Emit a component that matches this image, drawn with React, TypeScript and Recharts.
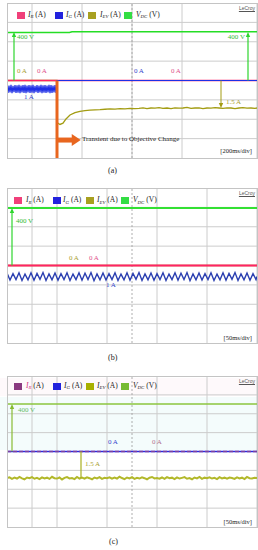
import { CartesianGrid, Line, LineChart, ReferenceLine, XAxis, YAxis } from 'recharts';
import type { ReactNode } from 'react';

type Pt = { t: number; v: number };
const pairs = (list: number[][]): Pt[] => list.map(([t, v]) => ({ t, v }));
const samples = (vals: number[], dt: number, t0 = 0): Pt[] => vals.map((v, i) => ({ t: t0 + i * dt, v }));

// ---- (a) 200 ms/div, t in ms ----
const aVdc = pairs([[0, 396], [500, 396], [520, 403], [2000, 403]]);
const aIr = pairs([[0, 0], [2000, 0]]);
const aIgRipple = [
  -0.55, -1.45, -0.6, -1.4, -0.5, -1.5, -0.62, -1.38, -0.55, -1.45, -0.58, -1.42, -0.5, -1.5, -0.6, -1.4,
  -0.55, -1.45, -0.52, -1.48, -0.6, -1.4, -0.55, -1.45, -0.58, -1.42, -0.5, -1.5, -0.62, -1.38, -0.55, -1.45,
  -0.6, -1.4, -0.5, -1.5, -0.58, -1.42, -0.55, -1.45, -0.6, -1.4, -0.52, -1.48, -0.55, -1.45, -0.6, -1.4,
  -0.55, -1.45,
];
const aIg = [...samples(aIgRipple, 8), ...pairs([[400, -1], [400, 0], [2000, 0]])];
const aIevTransient = pairs([
  [0, 0], [400, 0], [400, -2.3], [424, -2.4], [448, -2.33], [472, -2.1], [504, -1.88], [544, -1.75],
  [584, -1.68], [624, -1.64], [664, -1.62], [704, -1.6], [744, -1.59], [784, -1.57], [824, -1.55],
  [864, -1.56], [904, -1.54], [944, -1.55], [984, -1.52],
]);
const aIevSteady = [
  -1.54, -1.52, -1.49, -1.53, -1.5, -1.51, -1.48, -1.52, -1.5, -1.53, -1.49, -1.51, -1.5, -1.47, -1.52, -1.5,
  -1.49, -1.53, -1.5, -1.51, -1.48, -1.5, -1.52, -1.49, -1.5, -1.53, -1.5, -1.48, -1.51, -1.5, -1.52,
];
const aIev = [...aIevTransient, ...samples(aIevSteady, 32, 1024), { t: 2000, v: -1.5 }];

// ---- (b) 50 ms/div ----
const bVdc = pairs([[0, 400], [500, 400]]);
const bIr = pairs([[0, 0], [500, 0]]);
const bIev = pairs([[0, 0], [500, 0]]);
const bIgRipple = [
  -0.68, -1.32, -0.74, -1.28, -0.66, -1.36, -0.78, -1.3, -0.66, -1.34, -0.72, -1.26, -0.64, -1.36, -0.76, -1.3,
  -0.68, -1.34, -0.74, -1.28, -0.66, -1.36, -0.78, -1.28, -0.66, -1.34, -0.7, -1.28, -0.64, -1.38, -0.76, -1.3,
  -0.68, -1.32, -0.74, -1.28, -0.66, -1.36, -0.78, -1.3, -0.66, -1.34, -0.72, -1.26, -0.64, -1.36, -0.76, -1.3,
  -0.68, -1.34, -0.74, -1.28, -0.66, -1.36, -0.78, -1.28, -0.66, -1.34, -0.7, -1.28, -0.64, -1.38, -0.76, -1.3,
  -0.68, -1.32, -0.74, -1.28, -0.66, -1.36, -0.78, -1.3, -0.66, -1.34, -0.72, -1.26, -0.64, -1.36, -0.76, -1.3,
  -0.68, -1.34, -0.74, -1.28,
];
const bIg = [...samples(bIgRipple, 6), { t: 500, v: -1.0 }];

// ---- (c) 50 ms/div ----
const cVdc = pairs([[0, 400], [500, 400]]);
const cIg = pairs([[0, 0], [500, 0]]);
const cIr = pairs([[0, 0], [500, 0]]);
const cIevNoise = [
  -1.5, -1.46, -1.55, -1.48, -1.53, -1.44, -1.52, -1.57, -1.47, -1.51,
  -1.45, -1.54, -1.49, -1.56, -1.46, -1.52, -1.48, -1.55, -1.43, -1.51,
  -1.53, -1.47, -1.58, -1.49, -1.45, -1.52, -1.5, -1.56, -1.44, -1.53,
  -1.48, -1.54, -1.46, -1.51, -1.57, -1.47, -1.52, -1.45, -1.55, -1.49,
  -1.51, -1.46, -1.54, -1.48, -1.53, -1.43, -1.5, -1.56, -1.47, -1.52,
  -1.45, -1.55, -1.49, -1.53, -1.46, -1.51, -1.57, -1.48, -1.44, -1.52,
  -1.5, -1.54, -1.47, -1.55, -1.45, -1.51, -1.48, -1.56, -1.46, -1.53,
  -1.49, -1.45, -1.54, -1.5, -1.57, -1.47, -1.52, -1.44, -1.55, -1.48,
  -1.51, -1.46, -1.53, -1.49, -1.56, -1.45, -1.52, -1.48, -1.54, -1.47,
  -1.5, -1.55, -1.46, -1.52, -1.48, -1.56, -1.44, -1.51, -1.53, -1.49,
];
const cIev = [...samples(cIevNoise, 5), { t: 500, v: -1.5 }];

const W = 250;
const SERIF = '"Liberation Serif", "DejaVu Serif", serif';
const GRID = '#cccccc';

const vArrow = (color: string, w = 1) => (p: any) => {
  const { x1, y1, x2, y2 } = p;
  const d = y2 > y1 ? 1 : -1;
  return (
    <g>
      <line x1={x1} y1={y1} x2={x2} y2={y2 - d * 3} stroke={color} strokeWidth={w} />
      <path d={`M${x2},${y2} L${x2 - 2.2},${y2 - d * 5} L${x2 + 2.2},${y2 - d * 5}Z`} fill={color} />
    </g>
  );
};

const bigArrow = (color: string) => (p: any) => {
  const { x1, y1, x2 } = p;
  return (
    <g>
      <rect x={x1} y={y1 - 2.5} width={x2 - x1 - 8} height={5} fill={color} />
      <path d={`M${x2},${y1} L${x2 - 9},${y1 - 6} L${x2 - 9},${y1 + 6}Z`} fill={color} />
    </g>
  );
};

// scope graticule: 10 x 8 divisions on the voltage channel, dashed centre lines
function frame(tMax: number, vMax: number) {
  const xt = Array.from({ length: 11 }, (_, i) => (i * tMax) / 10);
  const rows = [-3, -2, -1, 1, 2, 3].map((k) => (k * vMax) / 4);
  return [
    <XAxis key="x" type="number" dataKey="t" domain={[0, tMax]} ticks={xt} hide allowDataOverflow />,
    <YAxis key="v" yAxisId="v" type="number" domain={[-vMax, vMax]} hide allowDataOverflow />,
    <CartesianGrid key="g" yAxisId="v" stroke={GRID} strokeWidth={1} horizontal={false} />,
    ...rows.map((r, i) => (
      <ReferenceLine key={'r' + i} yAxisId="v" segment={[{ x: 0, y: r }, { x: tMax, y: r }]} stroke={GRID} strokeWidth={1} />
    )),
    <ReferenceLine key="r0" yAxisId="v" segment={[{ x: 0, y: 0 }, { x: tMax, y: 0 }]} stroke="#a8a8a8" strokeDasharray="2 2" strokeWidth={1} />,
    <ReferenceLine key="cx" yAxisId="v" x={tMax / 2} stroke="#9a9a9a" strokeDasharray="2 2" strokeWidth={0.8} />,
  ];
}

function Txt({ x, y, color = '#222', size = 7, children, right }: { x: number; y: number; color?: string; size?: number; children: ReactNode; right?: boolean }) {
  return (
    <div
      style={{
        position: 'absolute',
        left: right ? undefined : x,
        right: right ? 258 - x : undefined,
        top: y - size * 0.6,
        fontSize: size,
        lineHeight: 1,
        color,
        fontFamily: SERIF,
        whiteSpace: 'nowrap',
      }}
    >
      {children}
    </div>
  );
}

function Sym({ sub, unit, color }: { sub: string; unit: string; color?: string }) {
  return (
    <span>
      <i style={{ color }}>{sub === 'DC' ? 'V' : 'I'}</i>
      <i style={{ fontSize: '0.65em', position: 'relative', top: 1.5, color }}>{sub}</i> ({unit})
    </span>
  );
}

function Legend({ y, xs, tx, colors, irColor }: { y: number; xs: number[]; tx: number[]; colors: string[]; irColor?: string }) {
  const items = [
    ['R', 'A'],
    ['G', 'A'],
    ['EV', 'A'],
    ['DC', 'V'],
  ];
  return (
    <>
      {items.map(([s, u], i) => (
        <div key={s}>
          <div style={{ position: 'absolute', left: xs[i], top: y - 3.5, width: 8, height: 7, background: colors[i] }} />
          <Txt x={tx[i]} y={y} size={7.5}>
            <Sym sub={s} unit={u} color={i === 0 ? irColor : undefined} />
          </Txt>
        </div>
      ))}
    </>
  );
}

function Panel({ left, top, height, children }: { left: number; top: number; height: number; children: ReactNode }) {
  return (
    <div style={{ position: 'absolute', left, top, width: W, height }}>
      {children}
      <div style={{ position: 'absolute', left: 0, top: 0, width: W - 1, height: height - 1, border: '0.8px solid #c4c4c4', pointerEvents: 'none' }} />
      <div style={{ position: 'absolute', right: 2, top: 2, fontSize: 5, fontFamily: 'Liberation Sans, sans-serif', color: '#555', textDecoration: 'underline' }}>LeCroy</div>
    </div>
  );
}

const M = { top: 0, right: 0, bottom: 0, left: 0 };

export default function App() {
  const hA = 155;
  const hB = 155;
  const hC = 151;
  return (
    <div style={{ position: 'absolute', left: 0, top: 0, width: 258, height: 550, background: '#fff', overflow: 'hidden' }}>
      {/* faint colour cast in (c) */}
      <div style={{ position: 'absolute', left: 0, top: 378, width: 258, height: 18, background: '#fef9fb' }} />
      <div style={{ position: 'absolute', left: 0, top: 397, width: 258, height: 53, background: '#f4fcfc' }} />

      <Panel left={7} top={3} height={hA}>
        <LineChart width={W} height={hA} margin={M}>
          {frame(2000, 640)}
          <YAxis yAxisId="g" type="number" domain={[-9.1, 9.1]} hide allowDataOverflow />
          <YAxis yAxisId="ev" type="number" domain={[-4.23, 4.23]} hide allowDataOverflow />
          <Line yAxisId="v" data={aVdc} dataKey="v" stroke="#25dd25" strokeWidth={1.5} dot={false} isAnimationActive={false} />
          <Line yAxisId="ev" data={aIev} dataKey="v" stroke="#a39c12" strokeWidth={1.3} dot={false} isAnimationActive={false} />
          <Line yAxisId="g" data={aIr} dataKey="v" stroke="#ff2266" strokeWidth={1.3} dot={false} isAnimationActive={false} />
          <Line yAxisId="g" data={aIg} dataKey="v" stroke="#1f2fe6" strokeWidth={1.2} dot={false} isAnimationActive={false} />
          <ReferenceLine yAxisId="v" segment={[{ x: 56, y: 0 }, { x: 56, y: 400 }]} shape={vArrow('#2ed62e', 1.2)} />
          <ReferenceLine yAxisId="v" segment={[{ x: 1928, y: 0 }, { x: 1928, y: 400 }]} shape={vArrow('#2ed62e', 1.2)} />
          <ReferenceLine yAxisId="ev" segment={[{ x: 1712, y: 0 }, { x: 1712, y: -1.5 }]} shape={vArrow('#a39c12', 1)} />
          <ReferenceLine yAxisId="ev" segment={[{ x: 400, y: 0 }, { x: 400, y: -4.23 }]} stroke="#e8661f" strokeWidth={3} />
          <ReferenceLine yAxisId="ev" segment={[{ x: 400, y: -3.25 }, { x: 590, y: -3.25 }]} shape={bigArrow('#e8661f')} />
        </LineChart>
      </Panel>
      <Legend y={15} xs={[17, 55, 88, 124]} tx={[28, 66, 100, 136]} colors={['#f0407a', '#2222dd', '#a8a020', '#33dd44']} />
      <Txt x={17} y={38} color="#33bb33">400 V</Txt>
      <Txt x={245} y={38} color="#33bb33" right>400 V</Txt>
      <Txt x={17} y={72} color="#a8a030">0 A</Txt>
      <Txt x={37} y={72} color="#e0508a">0 A</Txt>
      <Txt x={134} y={72} color="#3344cc">0 A</Txt>
      <Txt x={171} y={72} color="#e0508a">0 A</Txt>
      <Txt x={24} y={98} color="#3344cc">1 A</Txt>
      <Txt x={226} y={103} color="#a8a030">1.5 A</Txt>
      <Txt x={82} y={140} size={7}>Transient due to Objective Change</Txt>
      <Txt x={252} y={152} size={6.5} right>[200ms/div]</Txt>
      <Txt x={108} y={172} size={8}>(a)</Txt>

      <Panel left={7} top={188} height={hB}>
        <LineChart width={W} height={hB} margin={M}>
          {frame(500, 539)}
          <YAxis yAxisId="g" type="number" domain={[-7.05, 7.05]} hide allowDataOverflow />
          <Line yAxisId="v" data={bVdc} dataKey="v" stroke="#33e033" strokeWidth={2} dot={false} isAnimationActive={false} />
          <Line yAxisId="g" data={bIg} dataKey="v" stroke="#2b3fb0" strokeWidth={1.4} dot={false} isAnimationActive={false} />
          <Line yAxisId="g" data={bIev} dataKey="v" stroke="#a39c12" strokeWidth={1.5} dot={false} isAnimationActive={false} />
          <Line yAxisId="g" data={bIr} dataKey="v" stroke="#ff2266" strokeWidth={2} dot={false} isAnimationActive={false} />
          <ReferenceLine yAxisId="v" segment={[{ x: 10, y: 0 }, { x: 10, y: 400 }]} shape={vArrow('#2ed62e', 1.2)} />
        </LineChart>
      </Panel>
      <Legend y={200.5} xs={[14, 53, 86, 121]} tx={[26, 63, 97, 133]} colors={['#f0407a', '#2222dd', '#a8a020', '#33dd44']} />
      <Txt x={16} y={222} color="#33bb33">400 V</Txt>
      <Txt x={69} y={259} color="#a8a030">0 A</Txt>
      <Txt x={89} y={259} color="#e0508a">0 A</Txt>
      <Txt x={106} y={286} color="#3344cc">1 A</Txt>
      <Txt x={252} y={339} size={6.5} right>[50ms/div]</Txt>
      <Txt x={108} y={359} size={8}>(b)</Txt>

      <Panel left={7} top={376} height={hC}>
        <LineChart width={W} height={hC} margin={M}>
          {frame(500, 636)}
          <YAxis yAxisId="g" type="number" domain={[-5, 5]} hide allowDataOverflow />
          <YAxis yAxisId="ev" type="number" domain={[-4.27, 4.27]} hide allowDataOverflow />
          <Line yAxisId="v" data={cVdc} dataKey="v" stroke="#8cc63f" strokeWidth={1.5} dot={false} isAnimationActive={false} />
          <Line yAxisId="g" data={cIg} dataKey="v" stroke="#2a2ae0" strokeWidth={1.4} dot={false} isAnimationActive={false} />
          <Line yAxisId="g" data={cIr} dataKey="v" stroke="#7b3f9e" strokeWidth={1.4} strokeDasharray="4 2" dot={false} isAnimationActive={false} />
          <Line yAxisId="ev" data={cIev} dataKey="v" stroke="#b2b82a" strokeWidth={2} dot={false} isAnimationActive={false} />
          <ReferenceLine yAxisId="v" segment={[{ x: 10, y: 0 }, { x: 10, y: 400 }]} shape={vArrow('#88bb33', 1.2)} />
          <ReferenceLine yAxisId="ev" segment={[{ x: 148, y: 0 }, { x: 148, y: -1.5 }]} stroke="#a8b020" strokeWidth={1.2} />
        </LineChart>
      </Panel>
      <Legend y={386} xs={[14, 53, 86, 121]} tx={[26, 64, 97, 133]} colors={['#8a3a80', '#2222dd', '#a8b000', '#77bb33']} irColor="#d0307a" />
      <Txt x={18} y={411} color="#66bb66">400 V</Txt>
      <Txt x={108} y={443} color="#3344cc">0 A</Txt>
      <Txt x={152} y={443} color="#b07090">0 A</Txt>
      <Txt x={85} y={465} color="#a8a030">1.5 A</Txt>
      <Txt x={252} y={523} size={6.5} right>[50ms/div]</Txt>
      <Txt x={109} y={543} size={8}>(c)</Txt>
    </div>
  );
}
